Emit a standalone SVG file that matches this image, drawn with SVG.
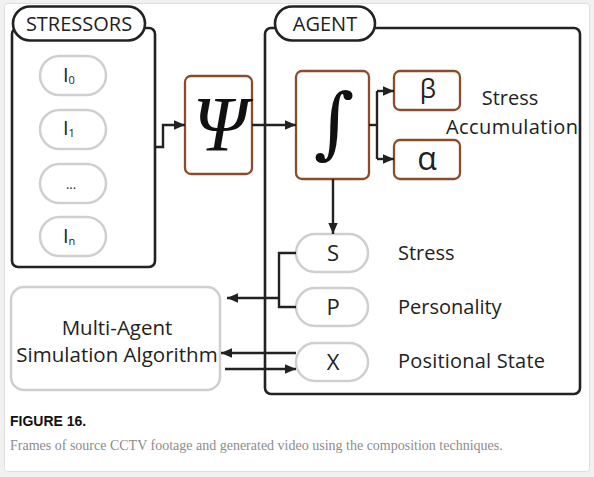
<svg xmlns="http://www.w3.org/2000/svg" width="594" height="477" viewBox="0 0 594 477">
<defs>
<style>
.t{font-family:"Open Sans","Liberation Sans",sans-serif;fill:#222}
.blk{fill:none;stroke:#222;stroke-width:2.6}
.pill{fill:#fff;stroke:#cfcfcf;stroke-width:2.5}
.brn{fill:#fff;stroke:#8b4c2e;stroke-width:2.3}
.ln{fill:none;stroke:#222;stroke-width:2.4}
.ii{font-size:20px}
.sub{font-size:11px}
</style>
<marker id="ah" viewBox="0 0 11 10" refX="11" refY="5" markerWidth="11" markerHeight="10" markerUnits="userSpaceOnUse" orient="auto">
<path d="M0,0.3 L11,5 L0,9.7 Z" fill="#222"/>
</marker>
</defs>
<rect x="0" y="0" width="594" height="477" fill="#f1f1f1"/>
<rect x="4.5" y="3.5" width="585" height="468" rx="3" fill="#fff" stroke="#dedede"/>

<g id="stressors">
<rect class="blk" x="12" y="28" width="143" height="239" rx="6" fill="#fff"/>
<rect x="13" y="6.5" width="132" height="34" rx="17" fill="#fff" stroke="#222" stroke-width="2.6"/>
<text class="t" x="79" y="31" font-size="20" text-anchor="middle">STRESSORS</text>
</g>
<g id="i0"><rect class="pill" x="40" y="56" width="66" height="39" rx="19.5"/><text class="t ii" x="63" y="82">I<tspan class="sub" dy="2">0</tspan></text></g>
<g id="i1"><rect class="pill" x="40" y="110" width="66" height="39" rx="19.5"/><text class="t ii" x="63" y="135">I<tspan class="sub" dy="2">1</tspan></text></g>
<g id="idots"><rect class="pill" x="40" y="164" width="66" height="39" rx="19.5"/><text class="t" x="71" y="189" font-size="13" text-anchor="middle">...</text></g>
<g id="in"><rect class="pill" x="40" y="217" width="66" height="39" rx="19.5"/><text class="t ii" x="63" y="243">I<tspan class="sub" dy="2">n</tspan></text></g>

<g id="psi"><rect class="brn" x="185" y="76" width="67" height="98" rx="6"/><text x="220" y="150" font-family="Liberation Serif,serif" font-style="italic" font-size="78" text-anchor="middle" fill="#111">Ψ</text></g>

<g id="agent">
<rect class="blk" x="265" y="28" width="315" height="366" rx="6" fill="none"/>
<rect x="275" y="6.5" width="100" height="34" rx="17" fill="#fff" stroke="#222" stroke-width="2.6"/>
<text class="t" x="325" y="31" font-size="20" text-anchor="middle">AGENT</text>
</g>

<g id="integral"><rect class="brn" x="296" y="71" width="73" height="108" rx="6"/><text x="334" y="149" font-family="DejaVu Serif,serif" font-size="78" text-anchor="middle" fill="#111">∫</text></g>
<g id="beta"><rect class="brn" x="394" y="71" width="66" height="39" rx="6"/><text class="t" x="428" y="98" font-size="26" text-anchor="middle">β</text></g>
<g id="alpha"><rect class="brn" x="394" y="140" width="66" height="39" rx="6"/><text class="t" x="427" y="170" font-size="32" text-anchor="middle">α</text></g>
<text class="t" x="510" y="105" font-size="20" text-anchor="middle">Stress</text>
<text class="t" x="446" y="134" font-size="20" textLength="132">Accumulation</text>

<g id="s"><rect class="pill" x="296" y="234" width="72" height="38" rx="19"/><text class="t" x="333" y="261" font-size="22" text-anchor="middle">S</text></g>
<g id="p"><rect class="pill" x="296" y="288" width="72" height="38" rx="19"/><text class="t" x="333" y="315" font-size="22" text-anchor="middle">P</text></g>
<g id="x"><rect class="pill" x="296" y="343" width="72" height="38" rx="19"/><text class="t" x="333" y="370" font-size="22" text-anchor="middle">X</text></g>
<text class="t" x="398" y="260" font-size="20">Stress</text>
<text class="t" x="398" y="314" font-size="20">Personality</text>
<text class="t" x="398" y="368" font-size="20" textLength="147">Positional State</text>

<g id="multiagent"><rect class="pill" x="11" y="287" width="209" height="103" rx="13"/>
<text class="t" x="117" y="335" font-size="20.5" text-anchor="middle">Multi-Agent</text>
<text class="t" x="117" y="362" font-size="20.5" text-anchor="middle">Simulation Algorithm</text></g>

<g id="connectors">
<path class="ln" d="M155,147 H163 V125 H185" marker-end="url(#ah)"/>
<path class="ln" d="M252,125 H296" marker-end="url(#ah)"/>
<path class="ln" d="M369,125 H377"/>
<path class="ln" d="M377,91 V159"/>
<path class="ln" d="M377,91 H394" marker-end="url(#ah)"/>
<path class="ln" d="M377,159 H394" marker-end="url(#ah)"/>
<path class="ln" d="M333,179 V234" marker-end="url(#ah)"/>
<path class="ln" d="M296,253 H279 V307 H296"/>
<path class="ln" d="M279,298 H227" marker-end="url(#ah)"/>
<path class="ln" d="M296,353 H221" marker-end="url(#ah)"/>
<path class="ln" d="M225,369 H296" marker-end="url(#ah)"/>
</g>

<text x="10" y="426" font-family="Liberation Sans,sans-serif" font-weight="bold" font-size="14" fill="#111">FIGURE 16.</text>
<text x="10" y="450" font-family="Liberation Serif,serif" font-size="14" fill="#8c8c8c">Frames of source CCTV footage and generated video using the composition techniques.</text>
</svg>
